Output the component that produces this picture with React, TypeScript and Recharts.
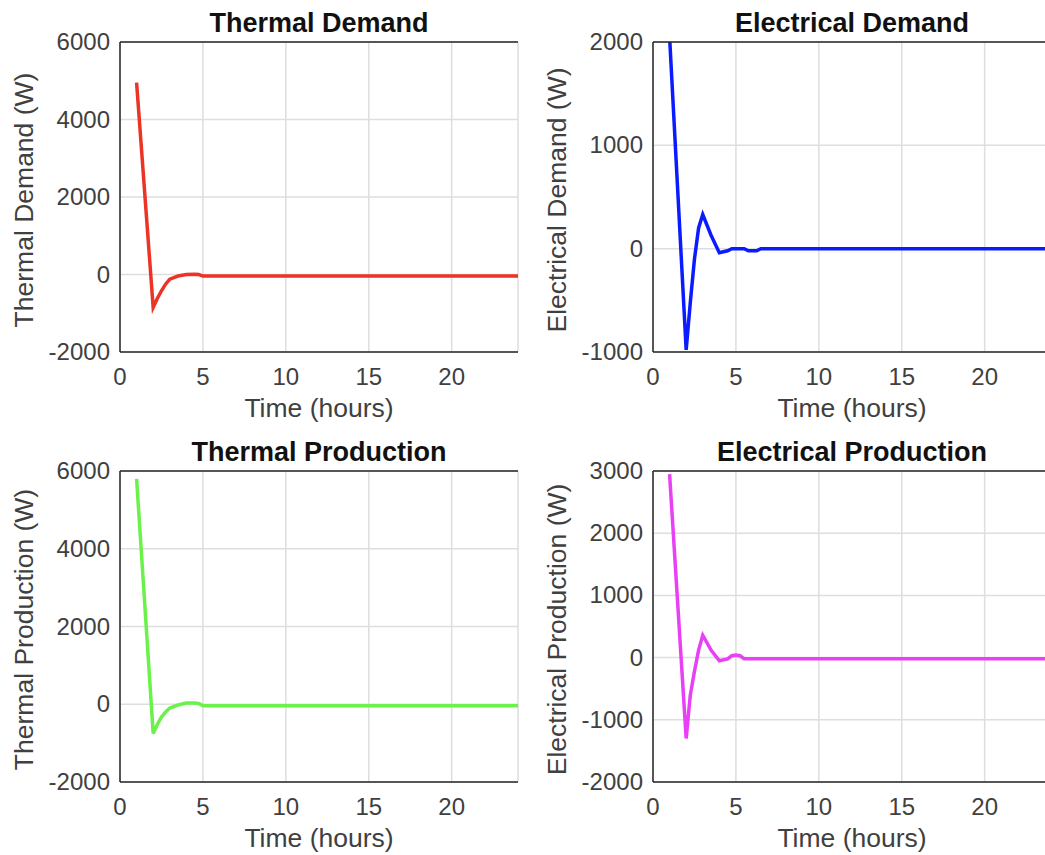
import { LineChart, Line, XAxis, YAxis, CartesianGrid } from 'recharts';

// simulation output, sampled hours (finer around the transient)
const timeHours = [
  1, 2, 2.25, 2.5, 2.75, 3, 3.5, 4, 4.5, 4.75, 5, 5.25, 5.5, 5.75, 6, 6.25, 6.5,
  7, 8, 9, 10, 11, 12, 13, 14, 15, 16, 17, 18, 19, 20, 21, 22, 23, 24,
];

const thermalDemand = [
  4950, -850, -620, -420, -250, -120, -40, 0, 5, 0, -40, -40, -40, -40, -40, -40, -40,
  -40, -40, -40, -40, -40, -40, -40, -40, -40, -40, -40, -40, -40, -40, -40, -40, -40, -40,
];

const electricalDemand = [
  2050, -980, -520, -100, 200, 330, 130, -40, -20, 0, 0, 0, 0, -20, -20, -20, 0,
  0, 0, 0, 0, 0, 0, 0, 0, 0, 0, 0, 0, 0, 0, 0, 0, 0, 0,
];

const thermalProduction = [
  5800, -750, -520, -330, -200, -100, -20, 30, 30, 20, -40, -40, -40, -40, -40, -40, -40,
  -40, -40, -40, -40, -40, -40, -40, -40, -40, -40, -40, -40, -40, -40, -40, -40, -40, -40,
];

const electricalProduction = [
  2950, -1300, -600, -220, 120, 360, 120, -50, -20, 30, 40, 30, -20, -20, -20, -20, -20,
  -20, -20, -20, -20, -20, -20, -20, -20, -20, -20, -20, -20, -20, -20, -20, -20, -20, -20,
];

const xTicks = [0, 5, 10, 15, 20];
const thermalTicks = [-2000, 0, 2000, 4000, 6000];
const elecDemandTicks = [-1000, 0, 1000, 2000];
const elecProdTicks = [-2000, -1000, 0, 1000, 2000, 3000];

const FONT = '"Liberation Sans", Arial, Helvetica, sans-serif';
const AXIS = '#262626';
const TICK_TXT = '#404040';
const GRID = '#dedede';

const toRows = (vals: number[]) => timeHours.map((t, i) => ({ t, v: vals[i] }));

const XTick = (p: any) => (
  <text x={p.x} y={p.y + 33} textAnchor="middle" fontSize={24} fill={TICK_TXT} fontFamily={FONT}>
    {p.payload.value}
  </text>
);

const YTick = (p: any) => (
  <text x={p.x - 10} y={p.y + 8} textAnchor="end" fontSize={24} fill={TICK_TXT} fontFamily={FONT}>
    {p.payload.value}
  </text>
);

interface PanelProps {
  left: number;
  top: number;
  topH: number;
  yw: number;
  right: number;
  title: string;
  yLabel: string;
  values: number[];
  color: string;
  yTicks: number[];
}

function Panel({ left, top, topH, yw, right, title, yLabel, values, color, yTicks }: PanelProps) {
  const data = toRows(values);
  const domain: [number, number] = [yTicks[0], yTicks[yTicks.length - 1]];
  return (
    <LineChart
      width={530}
      height={430}
      data={data}
      margin={{ top: 0, right, bottom: 0, left: 0 }}
      style={{ position: 'absolute', left, top }}
    >
      <CartesianGrid stroke={GRID} strokeWidth={1.5} />
      <XAxis
        type="number"
        dataKey="t"
        domain={[0, 24]}
        ticks={xTicks}
        height={78}
        axisLine={{ stroke: AXIS, strokeWidth: 1.5 }}
        tickLine={false}
        tickSize={0}
        tickMargin={0}
        tick={<XTick />}
        label={(lp: any) => {
          const vb = lp.viewBox;
          return (
            <text x={vb.x + vb.width / 2} y={vb.y + 65} textAnchor="middle" fontSize={26.5} fill={TICK_TXT} fontFamily={FONT}>
              Time (hours)
            </text>
          );
        }}
      />
      <XAxis
        xAxisId="top"
        orientation="top"
        type="number"
        domain={[0, 24]}
        ticks={xTicks}
        height={topH}
        axisLine={{ stroke: AXIS, strokeWidth: 1.5 }}
        tickLine={false}
        tick={false}
        label={(lp: any) => {
          const vb = lp.viewBox;
          return (
            <text x={vb.x + vb.width / 2} y={vb.y + vb.height - 10} textAnchor="middle" fontSize={27} fontWeight="bold" fill="#111" fontFamily={FONT}>
              {title}
            </text>
          );
        }}
      />
      <YAxis
        type="number"
        domain={domain}
        ticks={yTicks}
        allowDataOverflow
        width={yw}
        axisLine={{ stroke: AXIS, strokeWidth: 1.5 }}
        tickLine={false}
        tickSize={0}
        tickMargin={0}
        tick={<YTick />}
        label={(lp: any) => {
          const vb = lp.viewBox;
          const cx = vb.x + vb.width - 87;
          const cy = vb.y + vb.height / 2 + 3;
          return (
            <text x={cx} y={cy} transform={`rotate(-90 ${cx} ${cy})`} textAnchor="middle" fontSize={26.5} fill={TICK_TXT} fontFamily={FONT}>
              {yLabel}
            </text>
          );
        }}
      />
      <YAxis
        yAxisId="right"
        orientation="right"
        type="number"
        domain={domain}
        width={0}
        axisLine={{ stroke: AXIS, strokeWidth: 1.5 }}
        tickLine={false}
        tick={false}
      />
      <Line
        type="linear"
        dataKey="v"
        stroke={color}
        strokeWidth={3.5}
        dot={false}
        isAnimationActive={false}
      />
    </LineChart>
  );
}

export default function App() {
  return (
    <div
      style={{
        position: 'fixed',
        left: 0,
        top: 0,
        width: 1045,
        height: 855,
        overflow: 'hidden',
        background: '#fff',
        fontFamily: FONT,
      }}
    >
      <Panel left={0} top={0} topH={42} yw={120} right={12} title="Thermal Demand"
        yLabel="Thermal Demand (W)" values={thermalDemand} color="#ec3426" yTicks={thermalTicks} />
      <Panel left={530} top={0} topH={42} yw={123} right={9} title="Electrical Demand"
        yLabel="Electrical Demand (W)" values={electricalDemand} color="#0a1cff" yTicks={elecDemandTicks} />
      <Panel left={0} top={430} topH={41} yw={120} right={12} title="Thermal Production"
        yLabel="Thermal Production (W)" values={thermalProduction} color="#6af24a" yTicks={thermalTicks} />
      <Panel left={530} top={430} topH={41} yw={123} right={9} title="Electrical Production"
        yLabel="Electrical Production (W)" values={electricalProduction} color="#e840f5" yTicks={elecProdTicks} />
    </div>
  );
}
